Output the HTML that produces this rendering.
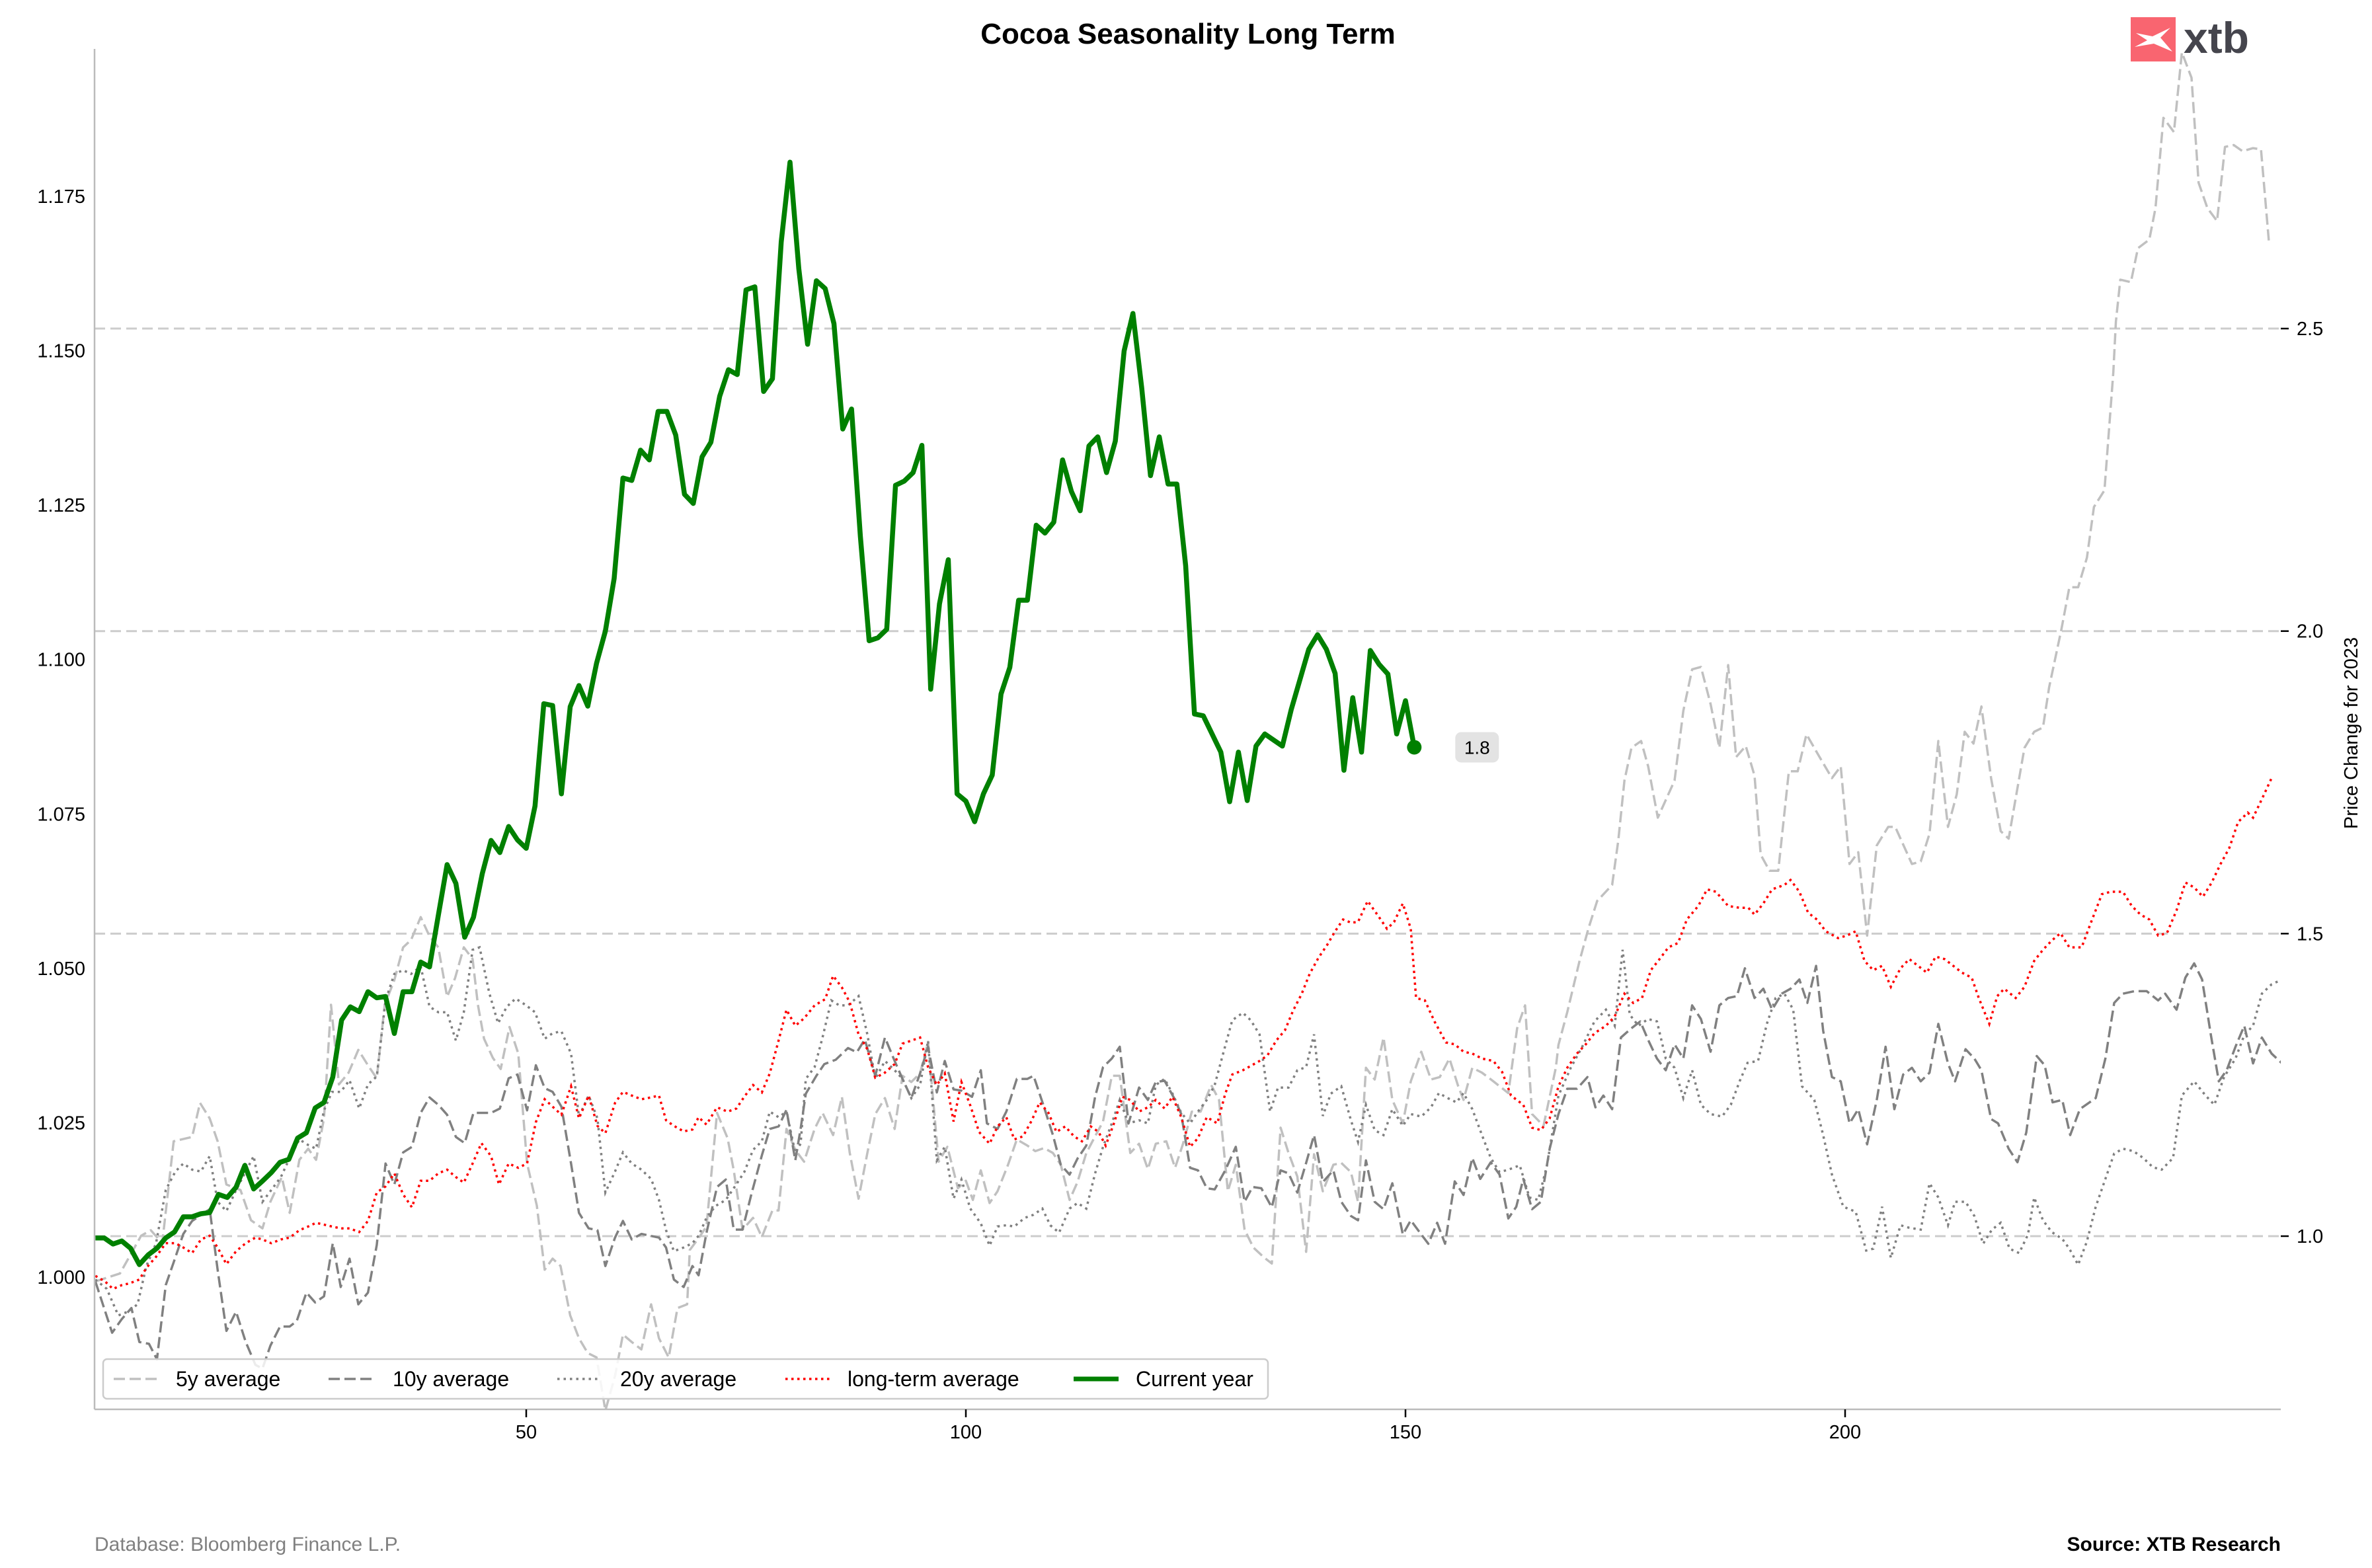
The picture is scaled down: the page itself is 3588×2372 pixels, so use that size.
<!DOCTYPE html>
<html><head><meta charset="utf-8"><title>Cocoa Seasonality Long Term</title>
<style>html,body{margin:0;padding:0;background:#fff;}svg{display:block;font-family:"Liberation Sans",Arial,sans-serif;}</style>
</head><body>
<svg id="chart" width="3588" height="2372" viewBox="0 0 3588 2372" xmlns="http://www.w3.org/2000/svg">
<defs><clipPath id="plotclip"><rect x="143" y="74" width="3307" height="2058"/></clipPath></defs>
<rect x="0" y="0" width="3588" height="2372" fill="#ffffff"/>
<text x="1797" y="66" font-size="44" font-weight="bold" text-anchor="middle" fill="#000">Cocoa Seasonality Long Term</text>
<g>
<rect x="3223" y="26" width="68" height="67" fill="#f96570"/>
<polygon points="3231,50 3256,55 3283,42 3268,57 3286,78 3258,66 3229,71 3248,61" fill="#ffffff"/>
<text x="3303" y="80" font-size="66" font-weight="bold" fill="#45454d">xtb</text>
</g>
<g id="grid"></g>
<g id="series" clip-path="url(#plotclip)"></g>
<line x1="143" y1="74" x2="143" y2="2132" stroke="#bbbbbb" stroke-width="2.5"/>
<line x1="143" y1="2132" x2="3450" y2="2132" stroke="#bbbbbb" stroke-width="2.5"/>
<g id="axes"></g>
<text transform="translate(3566,1109) rotate(-90)" font-size="29" text-anchor="middle" fill="#000">Price Change for 2023</text>
<g>
<rect x="156" y="2056" width="1762" height="60" rx="6" fill="#ffffff" fill-opacity="0.85" stroke="#cccccc" stroke-width="2.5"/>
<line x1="172" y1="2086" x2="240" y2="2086" stroke="#c0c0c0" stroke-width="3.5" stroke-dasharray="17,7"/>
<text x="266" y="2097" font-size="32">5y average</text>
<line x1="497" y1="2086" x2="565" y2="2086" stroke="#808080" stroke-width="3.5" stroke-dasharray="17,7"/>
<text x="594" y="2097" font-size="32">10y average</text>
<line x1="843" y1="2086" x2="909" y2="2086" stroke="#808080" stroke-width="3.5" stroke-dasharray="3.5,6"/>
<text x="938" y="2097" font-size="32">20y average</text>
<line x1="1188" y1="2086" x2="1256" y2="2086" stroke="#ff0000" stroke-width="3.5" stroke-dasharray="3.5,5.5"/>
<text x="1282" y="2097" font-size="32">long-term average</text>
<line x1="1624" y1="2086" x2="1692" y2="2086" stroke="#008000" stroke-width="7"/>
<text x="1718" y="2097" font-size="32">Current year</text>
</g>
<text x="143" y="2346" font-size="30" fill="#808080">Database: Bloomberg Finance L.P.</text>
<text x="3450" y="2346" font-size="30" font-weight="bold" text-anchor="end" fill="#000">Source: XTB Research</text>
</svg>
<script>
const xTicks = [50, 100, 150, 200];
const leftTicks = [1.000, 1.025, 1.050, 1.075, 1.100, 1.125, 1.150, 1.175];
const rightTicks = [1.0, 1.5, 2.0, 2.5];
const rightTickLabels = ["1.0", "1.5", "2.0", "2.5"];

const fiveYDays = [1,3.8,6.2,7.3,8.6,9.9,12,12.9,14,14.9,15.9,17.5,18.7,20,20.9,22.2,23.1,24.2,25.2,26.1,27,27.8,28.7,29.8,30.9,32,33,33.9,35,36,36.9,38,39,40,41,41.9,42.9,43.9,44.5,45.2,46.2,47.1,48.1,49.1,50.1,51.2,52.1,53,53.9,55,56,57,58,59,60.1,61,62,63.1,64.2,65.1,66.2,67.2,68.3,
68.6,69.6,70.5,71.7,72.9,73.6,74.6,75.8,76.8,78,78.7,79.6,80.6,81.6,82.8,83.7,84.9,85.9,86.8,87.8,88.8,89.7,90.8,91.9,92.8,93.8,94.8,95.7,96.9,97.9,99.1,100,100.8,101.7,102.7,103.6,104.8,105.8,107,107.9,108.9,109.9,110.8,111.8,112.7,113.7,114.7,115.6,116.6,117.5,118.7,119.7,120.7,121.6,122.8,123.8,124.7,125.7,126.7,127.9,128.8,129.8,130.7,131.7,132.7,133.9,134.8,135.8,136.7,137.7,138.7,139.6,140.6,141.8,142.7,143.8,
144.6,145.5,146.5,147.5,148.5,149.7,150.6,151.8,152.9,153.9,155,156,156.6,157.6,158.7,160,161.7,162.7,163.6,164.4,165.7,167.1,167.4,168.4,169.8,170.8,171.8,173.5,174.2,174.9,175.7,176.8,177.6,178.7,180.6,181.6,182.6,183.6,184.7,185.7,186.7,187.6,188.7,189.7,190.4,191.4,192.4,193.6,194.6,195.6,197.1,198.5,199.5,200.5,201.5,202.5,203.6,204.9,205.7,207.6,208.6,209.6,210.6,211.7,212.7,213.6,214.6,215.5,216.6,217.7,218.6,220.4,221.5,222.5,
223.2,224.6,225.5,226.5,227.5,228.3,229.5,230.5,230.8,231.3,232.5,233.3,234.6,235.3,236.2,237.4,238.3,239.4,240.2,241.2,242.3,243.2,244.2,245.2,246.4,247.3,248.2];
const fiveYValues = [0.9993,1.0006,1.0067,1.0076,1.0055,1.0220,1.0227,1.0282,1.0257,1.0220,1.0150,1.0141,1.0092,1.0079,1.0122,1.0162,1.0104,1.0190,1.0208,1.0190,1.0257,1.0441,1.0312,1.0331,1.0368,1.0343,1.0322,1.0441,1.0481,1.0534,1.0546,1.0583,1.0552,1.0534,1.0454,1.0484,1.0534,1.0515,1.0441,1.0386,1.0355,1.0337,1.0405,1.0362,1.0184,1.0116,1.0012,1.0030,1.0018,0.9938,0.9901,0.9877,0.9870,0.9784,0.9840,0.9907,0.9895,0.9883,0.9956,0.9901,0.9870,0.9950,0.9956,
1.0044,1.0063,1.0082,1.0266,1.0225,1.0173,1.0077,1.0096,1.0065,1.0108,1.0108,1.0240,1.0206,1.0187,1.0240,1.0266,1.0230,1.0292,1.0201,1.0127,1.0201,1.0264,1.0290,1.0240,1.0326,1.0316,1.0330,1.0381,1.0187,1.0211,1.0144,1.0156,1.0125,1.0173,1.0120,1.0139,1.0182,1.0223,1.0213,1.0204,1.0209,1.0201,1.0182,1.0125,1.0154,1.0201,1.0228,1.0252,1.0326,1.0326,1.0201,1.0216,1.0175,1.0216,1.0220,1.0177,1.0216,1.0268,1.0268,1.0311,1.0287,1.0139,1.0182,1.0077,1.0048,1.0032,1.0022,1.0242,1.0201,1.0163,1.0041,1.0199,1.0139,1.0182,1.0185,1.0170,
1.0122,1.0339,1.0320,1.0388,1.0287,1.0249,1.0317,1.0365,1.0320,1.0324,1.0354,1.0309,1.0287,1.0339,1.0331,1.0317,1.0298,1.0403,1.0440,1.0264,1.0245,1.0339,1.0376,1.0429,1.0512,1.0564,1.0609,1.0635,1.0707,1.0804,1.0857,1.0868,1.0827,1.0744,1.0804,1.0917,1.0984,1.0988,1.0928,1.0857,1.0991,1.0842,1.0860,1.0812,1.0684,1.0658,1.0658,1.0819,1.0819,1.0879,1.0842,1.0808,1.0827,1.0669,1.0688,1.0553,1.0699,1.0729,1.0729,1.0669,1.0673,1.0718,1.0868,1.0729,1.0782,1.0883,1.0864,1.0924,1.0808,1.0722,1.0710,1.0857,1.0883,1.0890,
1.0955,1.1049,1.1117,1.1117,1.1165,1.1247,1.1274,1.1465,1.1547,1.1615,1.1611,1.1666,1.1680,1.1731,1.1877,1.1854,1.1983,1.1942,1.1772,1.1731,1.1710,1.1830,1.1833,1.1823,1.1828,1.1826,1.1676];

const tenYDays = [1,2.9,4,5.1,6,7.1,8,9,9.9,11,12,14,14.9,15.9,17,18.1,19.2,20,20.9,22,23.1,23.9,25,26,27,28,28.9,29.9,30.9,32,33,34,35,36,37,38,39,40,41,42,43,44,46,47,48,49,50.1,51.1,52.1,53,54,55.1,56,57.1,58.1,59,60.1,61,62,63.1,65.1,65.9,66.8,67.9,68.9,
69.6,70.5,71.7,72.7,73.6,74.6,75.6,76.8,77.7,78.7,79.6,80.6,81.2,81.8,83,83.9,85.2,86.6,87.6,88.5,89.7,90.8,91.9,92.8,93.8,94.8,95.7,96.7,97.6,98.6,99.5,100.7,101.7,102.4,103.6,104.6,105.8,107,107.7,108.9,109.9,110.8,111.8,112.7,113.7,114.7,115.6,116.6,117.5,118.5,119.7,120.7,121.6,122.6,123.8,124.5,125.5,126.4,127.4,128.3,129.5,130.7,131.7,132.6,133.6,134.8,135.8,136.7,137.7,138.7,139.6,140.6,141.8,142.7,143.8,
144.6,145.5,146.5,147.5,148.5,149.7,150.6,151.8,152.6,153.6,154.5,155.6,156.6,157.6,158.5,159.7,160.7,161.7,162.6,163.4,164.4,165.4,166.4,167.4,168.4,169.5,170.7,171.6,172.5,173.5,174.5,175.7,176.7,177.6,178.6,179.6,180.6,181.6,182.6,183.6,184.7,185.7,186.7,187.7,188.6,189.7,190.7,191.7,192.8,193.8,194.8,195.7,196.7,197.5,198.5,199.5,200.5,201.5,202.5,203.6,204.6,205.6,206.6,207.6,208.6,209.6,210.6,211.7,212.5,213.7,214.7,215.5,216.6,217.4,218.6,219.6,220.6,221.8,222.7,223.6,224.7,225.6,226.7,228.5,229.6,230.6,231.6,232.9,234.3,235.6,236.4,237.7,238.7,239.7,240.6,241.6,242.5,243.4,244.4,245.4,246.4,247.4,248.5,249.7];
const tenYValues = [0.9993,0.9910,0.9932,0.9950,0.9895,0.9892,0.9867,0.9987,1.0024,1.0070,1.0091,1.0110,1.0012,0.9913,0.9944,0.9895,0.9858,0.9852,0.9889,0.9920,0.9920,0.9929,0.9975,0.9959,0.9969,1.0055,0.9984,1.0030,0.9956,0.9975,1.0052,1.0184,1.0150,1.0202,1.0211,1.0266,1.0291,1.0279,1.0263,1.0227,1.0217,1.0266,1.0266,1.0273,1.0322,1.0328,1.0270,1.0343,1.0306,1.0300,1.0276,1.0184,1.0104,1.0079,1.0076,1.0018,1.0064,1.0091,1.0061,1.0070,1.0064,1.0048,0.9996,0.9984,1.0018,
1.0003,1.0072,1.0146,1.0158,1.0077,1.0077,1.0134,1.0197,1.0240,1.0244,1.0271,1.0189,1.0240,1.0297,1.0326,1.0345,1.0352,1.0371,1.0364,1.0385,1.0326,1.0388,1.0350,1.0321,1.0290,1.0330,1.0373,1.0299,1.0350,1.0304,1.0302,1.0292,1.0335,1.0249,1.0240,1.0268,1.0321,1.0321,1.0326,1.0275,1.0230,1.0182,1.0166,1.0192,1.0213,1.0292,1.0340,1.0354,1.0373,1.0249,1.0307,1.0287,1.0316,1.0318,1.0287,1.0264,1.0177,1.0173,1.0144,1.0142,1.0173,1.0211,1.0122,1.0146,1.0144,1.0113,1.0173,1.0168,1.0137,1.0185,1.0230,1.0154,1.0173,1.0122,1.0099,
1.0092,1.0189,1.0122,1.0110,1.0152,1.0069,1.0092,1.0069,1.0054,1.0088,1.0054,1.0155,1.0133,1.0193,1.0159,1.0186,1.0166,1.0095,1.0114,1.0159,1.0110,1.0122,1.0208,1.0264,1.0305,1.0305,1.0324,1.0275,1.0294,1.0272,1.0388,1.0403,1.0414,1.0384,1.0354,1.0335,1.0377,1.0354,1.0440,1.0418,1.0365,1.0440,1.0452,1.0455,1.0500,1.0452,1.0467,1.0433,1.0459,1.0467,1.0482,1.0444,1.0504,1.0399,1.0324,1.0317,1.0249,1.0272,1.0215,1.0287,1.0373,1.0272,1.0328,1.0339,1.0317,1.0331,1.0410,1.0346,1.0317,1.0369,1.0354,1.0335,1.0256,1.0249,1.0208,1.0186,1.0234,1.0358,1.0343,1.0283,1.0287,1.0230,1.0272,1.0290,1.0354,1.0444,1.0459,1.0463,1.0463,1.0448,1.0459,1.0433,1.0485,1.0508,1.0482,1.0392,1.0317,1.0335,1.0373,1.0407,1.0346,1.0388,1.0362,1.0346];

const twentyYDays = [1,2.3,3.6,4.7,5.8,6.8,7.9,9,10.1,11,12,13,14,14.9,15.9,17,18.1,19,20,21,22.1,23.1,24.2,25.2,26.1,27,27.9,28.9,29.9,31,32,33,34,35,36,36.9,38,39,40,41,42,42.9,43.9,44.7,45.8,46.8,47.8,48.8,49.9,51,52.1,53,54,55.1,56,57.1,58.1,59,60.1,61,62,63.1,64.2,65.1,65.9,66.8,67.9,68.9,
69.6,70.5,71.5,72.7,73.6,74.8,75.8,76.8,77.7,78.7,79.6,80.6,81.2,81.8,82.8,83.7,84.7,85.6,86.6,87.8,88.8,89.7,90.8,91.9,92.8,93.8,94.8,95.7,96.7,97.6,98.6,99.5,100.5,101.7,102.7,103.6,104.6,105.5,106.7,107.7,108.7,109.6,110.6,111.8,112.7,113.7,114.7,115.6,116.6,117.5,118.5,119.7,120.7,121.6,122.6,123.5,124.5,125.5,126.4,127.4,128.3,129.3,130.3,131.5,132.4,133.4,134.6,135.5,136.7,137.7,138.7,139.6,140.6,141.5,142.7,143.8,
144.6,145.5,146.5,147.5,148.5,149.7,150.6,151.8,152.9,153.8,154.8,155.8,156.6,157.6,158.7,159.7,160.7,161.7,163.0,164.1,165.1,166.1,167.4,168.8,170.1,171.5,172.8,173.8,174.7,175.5,176.5,177.6,178.6,179.6,180.6,181.6,182.6,183.6,184.7,186.0,187.0,188.0,188.9,190.1,191.1,192.1,193.1,194.1,195.1,196.5,197.5,198.5,199.8,201.2,202.4,203.2,204.2,205.2,206.3,207.3,208.6,209.6,210.6,211.7,212.5,213.7,214.7,215.7,216.7,217.7,218.7,219.8,220.8,221.5,222.5,223.5,224.7,225.5,226.5,227.5,228.5,229.6,230.6,231.6,232.8,233.9,235.0,236.0,237.3,238.3,239.7,241.0,242.0,243.1,244.4,245.4,246.4,247.4,248.5,249.7];
const twentyYValues = [0.9996,0.9981,0.9938,0.9944,0.9956,1.0018,1.0055,1.0141,1.0171,1.0184,1.0174,1.0171,1.0196,1.0122,1.0107,1.0141,1.0171,1.0196,1.0122,1.0141,1.0162,1.0193,1.0223,1.0214,1.0208,1.0270,1.0300,1.0300,1.0319,1.0273,1.0312,1.0325,1.0448,1.0491,1.0497,1.0491,1.0503,1.0438,1.0429,1.0429,1.0383,1.0429,1.0530,1.0534,1.0460,1.0411,1.0438,1.0451,1.0441,1.0429,1.0386,1.0395,1.0398,1.0362,1.0260,1.0294,1.0257,1.0137,1.0171,1.0202,1.0184,1.0174,1.0159,1.0125,1.0076,1.0042,1.0048,1.0055,
1.0067,1.0096,1.0115,1.0125,1.0144,1.0170,1.0206,1.0220,1.0268,1.0259,1.0268,1.0201,1.0216,1.0321,1.0340,1.0388,1.0448,1.0440,1.0440,1.0455,1.0393,1.0321,1.0350,1.0335,1.0321,1.0290,1.0311,1.0383,1.0189,1.0211,1.0127,1.0158,1.0111,1.0087,1.0051,1.0082,1.0084,1.0082,1.0096,1.0101,1.0111,1.0084,1.0072,1.0111,1.0120,1.0111,1.0168,1.0211,1.0249,1.0287,1.0249,1.0254,1.0249,1.0311,1.0321,1.0297,1.0266,1.0249,1.0268,1.0287,1.0311,1.0364,1.0416,1.0428,1.0416,1.0393,1.0268,1.0307,1.0307,1.0335,1.0340,1.0393,1.0261,1.0297,1.0309,1.0254,
1.0219,1.0279,1.0238,1.0230,1.0272,1.0245,1.0264,1.0260,1.0275,1.0298,1.0290,1.0283,1.0298,1.0272,1.0230,1.0193,1.0170,1.0174,1.0181,1.0129,1.0125,1.0181,1.0294,1.0339,1.0373,1.0414,1.0433,1.0407,1.0530,1.0425,1.0407,1.0418,1.0414,1.0354,1.0339,1.0290,1.0335,1.0279,1.0264,1.0260,1.0279,1.0317,1.0347,1.0350,1.0410,1.0452,1.0459,1.0433,1.0309,1.0287,1.0230,1.0166,1.0114,1.0106,1.0043,1.0046,1.0114,1.0031,1.0084,1.0080,1.0077,1.0152,1.0129,1.0084,1.0122,1.0122,1.0099,1.0054,1.0077,1.0088,1.0046,1.0039,1.0069,1.0129,1.0092,1.0073,1.0062,1.0046,1.0020,1.0058,1.0114,1.0159,1.0200,1.0208,1.0204,1.0193,1.0178,1.0174,1.0193,1.0294,1.0317,1.0294,1.0279,1.0324,1.0354,1.0392,1.0407,1.0459,1.0474,1.0482];

const longTermDays = [1,2.1,3,4,4.9,6,6.8,7.9,9,10.1,11,12,13,14,14.9,15.9,17,18.1,19.2,20,21,22.1,23.1,24.2,25.2,26.1,27,27.9,28.9,29.9,31,32,33,34,35,36,37,38,39,40,41,42,42.9,43.9,44.9,46,46.9,48,49.1,50.1,51.1,52.1,53,54,55.1,56,57.1,58.1,59,60.1,61,62,63.1,64.2,65.1,65.9,66.8,67.9,68.9,
69.6,70.5,71.7,72.9,73.9,74.8,75.8,76.8,77.7,78.7,79.6,80.6,81.6,82.8,84,84.9,85.9,86.8,87.8,88.8,89.7,90.7,91.9,92.8,93.8,94.8,95.7,96.7,97.6,98.6,99.5,100.5,101.5,102.7,103.6,104.6,105.5,106.5,107.5,108.4,109.4,110.3,111.3,112.3,113.2,114.2,115.1,115.9,116.8,117.8,118.7,119.7,120.7,121.6,122.6,123.5,124.5,125.5,126.4,127.4,128.6,129.5,130.3,131.5,132.4,133.4,134.3,135.3,136.3,137.2,138.2,139.1,140.1,141.1,142,142.9,143.8,
144.6,145.7,146.8,147.9,148.7,149.7,150.6,151.2,152.2,153.3,154.6,155.6,156.6,157.6,158.7,160.0,161.0,162.0,163.4,164.4,165.4,166.4,167.4,168.4,169.5,170.5,171.5,172.8,173.8,174.9,175.9,176.9,177.9,178.9,179.9,181.0,182.0,183.3,184.3,185.3,186.7,188.0,189.0,189.7,190.7,191.7,193.1,193.8,194.8,195.8,196.8,197.8,199.2,200.2,201.2,202.2,203.2,204.2,205.2,206.3,207.3,208.3,209.3,210.3,211.3,212.3,213.3,214.4,215.2,216.4,217.3,218.1,219.4,220.4,221.5,222.5,223.5,224.5,225.5,226.9,227.9,229.2,230.2,231.6,232.6,233.6,234.6,235.6,236.6,237.7,238.7,239.7,240.7,241.7,242.7,243.7,244.7,245.8,246.4,247.4,248.5];
const longTermValues = [1.0002,0.9993,0.9981,0.9987,0.9990,0.9996,1.0015,1.0033,1.0055,1.0055,1.0048,1.0039,1.0061,1.0067,1.0048,1.0021,1.0042,1.0055,1.0064,1.0061,1.0055,1.0061,1.0064,1.0076,1.0082,1.0088,1.0085,1.0082,1.0079,1.0079,1.0073,1.0091,1.0137,1.0147,1.0168,1.0134,1.0113,1.0156,1.0156,1.0168,1.0174,1.0162,1.0153,1.0184,1.0217,1.0196,1.0150,1.0184,1.0177,1.0184,1.0251,1.0288,1.0276,1.0263,1.0309,1.0257,1.0294,1.0245,1.0233,1.0282,1.0300,1.0294,1.0288,1.0291,1.0294,1.0254,1.0245,1.0236,1.0239,
1.0259,1.0247,1.0275,1.0268,1.0273,1.0292,1.0311,1.0299,1.0330,1.0383,1.0433,1.0407,1.0419,1.0440,1.0450,1.0488,1.0469,1.0445,1.0393,1.0369,1.0323,1.0330,1.0345,1.0378,1.0383,1.0388,1.0340,1.0311,1.0330,1.0252,1.0316,1.0278,1.0235,1.0216,1.0244,1.0259,1.0223,1.0228,1.0254,1.0283,1.0266,1.0235,1.0244,1.0228,1.0220,1.0244,1.0235,1.0213,1.0247,1.0292,1.0287,1.0268,1.0275,1.0287,1.0273,1.0292,1.0259,1.0211,1.0225,1.0259,1.0249,1.0297,1.0328,1.0335,1.0342,1.0350,1.0359,1.0383,1.0400,1.0431,1.0459,1.0491,1.0517,1.0538,1.0560,1.0579,1.0574,
1.0575,1.0609,1.0587,1.0564,1.0575,1.0605,1.0564,1.0452,1.0448,1.0414,1.0380,1.0377,1.0365,1.0362,1.0354,1.0350,1.0332,1.0294,1.0279,1.0242,1.0238,1.0257,1.0309,1.0339,1.0362,1.0377,1.0395,1.0407,1.0422,1.0459,1.0444,1.0452,1.0497,1.0515,1.0534,1.0541,1.0579,1.0601,1.0628,1.0624,1.0601,1.0598,1.0598,1.0587,1.0605,1.0628,1.0635,1.0643,1.0624,1.0590,1.0579,1.0560,1.0549,1.0553,1.0560,1.0512,1.0497,1.0504,1.0470,1.0500,1.0515,1.0504,1.0493,1.0519,1.0515,1.0504,1.0493,1.0485,1.0452,1.0410,1.0455,1.0467,1.0452,1.0470,1.0512,1.0530,1.0545,1.0557,1.0534,1.0534,1.0572,1.0620,1.0624,1.0624,1.0601,1.0587,1.0579,1.0553,1.0557,1.0594,1.0639,1.0631,1.0616,1.0639,1.0669,1.0695,1.0737,1.0752,1.0744,1.0774,1.0808];

// Current year (right axis), one value per trading day starting at day 1
const currentYearValues = [0.997,0.997,0.987,0.992,0.980,0.953,0.969,0.980,0.997,1.007,1.032,1.032,1.037,1.039,1.069,1.064,1.081,1.117,1.078,1.091,1.105,1.122,1.127,1.162,1.171,1.212,1.221,1.263,1.357,1.379,1.371,1.404,1.394,1.396,1.335,1.404,1.404,1.453,1.445,1.530,1.614,1.583,1.494,1.527,1.599,1.654,1.634,1.677,1.655,1.641,
1.711,
1.880,1.877,1.731,1.875,1.910,1.876,1.947,2.000,2.087,2.253,2.249,2.299,2.283,2.363,2.363,2.324,2.226,2.211,2.288,2.312,2.388,2.432,2.424,2.564,2.569,2.396,2.417,2.643,2.775,2.599,2.474,2.579,2.566,2.508,2.334,2.367,2.157,1.984,1.989,2.003,2.241,2.248,2.262,2.307,1.904,2.045,2.118,1.731,1.719,1.685,1.731,1.762,1.896,1.940,2.051,2.051,2.175,2.162,2.180,2.283,2.231,2.199,2.306,2.321,2.262,2.314,2.463,2.525,2.402,2.257,2.321,2.243,2.243,2.108,1.863,
1.86,1.83,1.80,1.718,1.80,1.72,1.81,1.83,1.82,1.81,1.87,1.92,1.97,1.994,1.97,1.93,1.77,1.89,1.80,1.968,1.945,1.929,1.83,1.885,1.808];
const lastValueLabel = "1.8";

const NS = "http://www.w3.org/2000/svg";
function xScale(day){ return 796 + (day - 50) * 13.3; }
function yLeft(v){ return 1932 - (v - 1) * 9343; }
function yRight(v){ return 1870 - (v - 1) * 915.3; }
function mk(tag, attrs, parent){ const e = document.createElementNS(NS, tag); for (const k in attrs) e.setAttribute(k, attrs[k]); parent.appendChild(e); return e; }

const grid = document.getElementById('grid');
const axes = document.getElementById('axes');
const series = document.getElementById('series');

rightTicks.forEach(function(t, i){
  const y = yRight(t);
  const g = mk('line', {x1:143, x2:3450, y1:y, y2:y, stroke:'#cccccc','stroke-width':3,'stroke-dasharray':'16,8'}, grid);
  
  
  const tk = mk('line', {x1:3450, x2:3462, y1:y, y2:y, stroke:'#000','stroke-width':2.5}, axes);
  
  
  const tx = mk('text', {x:3474, y:y+10, 'font-size':29, fill:'#000'}, axes);
  
  
  tx.textContent = rightTickLabels[i];
});
leftTicks.forEach(function(t){
  const y = yLeft(t);
  const tx = mk('text', {x:129, y:y+10, 'font-size':29, 'text-anchor':'end', fill:'#000'}, axes);
  
  
  tx.textContent = t.toFixed(3);
});
xTicks.forEach(function(t){
  const x = xScale(t);
  const tk = mk('line', {x1:x, x2:x, y1:2132, y2:2144, stroke:'#000','stroke-width':2.5}, axes);
  
  
  const tx = mk('text', {x:x, y:2176, 'font-size':29, 'text-anchor':'middle', fill:'#000'}, axes);
  
  
  tx.textContent = String(t);
});

function pathFrom(days, vals, yf){
  let d = '';
  for (let i = 0; i < vals.length; i++) d += (i ? 'L' : 'M') + xScale(days[i]).toFixed(1) + ',' + yf(vals[i]).toFixed(1);
  return d;
}
const p5 = mk('path', {d:pathFrom(fiveYDays, fiveYValues, yLeft), fill:'none', stroke:'#c0c0c0','stroke-width':3.5,'stroke-dasharray':'17,7','stroke-linejoin':'round'}, series);


const p10 = mk('path', {d:pathFrom(tenYDays, tenYValues, yLeft), fill:'none', stroke:'#808080','stroke-width':3.5,'stroke-dasharray':'17,7','stroke-linejoin':'round'}, series);


const p20 = mk('path', {d:pathFrom(twentyYDays, twentyYValues, yLeft), fill:'none', stroke:'#808080','stroke-width':3.5,'stroke-dasharray':'3.5,6'}, series);


const pl = mk('path', {d:pathFrom(longTermDays, longTermValues, yLeft), fill:'none', stroke:'#ff0000','stroke-width':3.5,'stroke-dasharray':'3.5,5.5'}, series);



const curDays = currentYearValues.map(function(v, i){ return i + 1; });
const pc = mk('path', {d:pathFrom(curDays, currentYearValues, yRight), fill:'none', stroke:'#008000','stroke-width':7.5,'stroke-linejoin':'round'}, series);



const lastIdx = currentYearValues.length - 1;
const lx = xScale(curDays[lastIdx]), ly = yRight(currentYearValues[lastIdx]);
const dot = mk('circle', {cx:lx, cy:ly, r:11, fill:'#008000'}, series);


const lbBox = mk('rect', {x:lx + 62, y:ly - 23, width:66, height:46, rx:9, fill:'#e3e3e3'}, axes);


const lbText = mk('text', {x:lx + 95, y:ly + 10, 'font-size':28, 'text-anchor':'middle', fill:'#000'}, axes);


lbText.textContent = lastValueLabel;
</script>
</body></html>
